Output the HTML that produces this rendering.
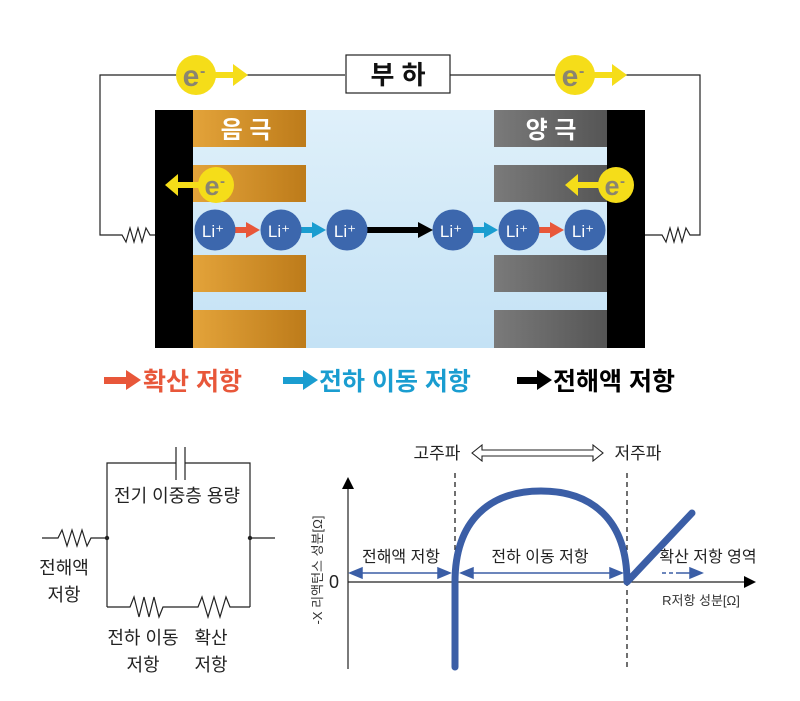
<!DOCTYPE html>
<html><head><meta charset="utf-8"><style>
html,body{margin:0;padding:0;background:#fff;}
svg{display:block;}
text{font-family:"Liberation Sans","Noto Sans CJK KR",sans-serif;}
</style></head><body>
<svg width="800" height="701" viewBox="0 0 800 701" xmlns="http://www.w3.org/2000/svg">
<defs>
<linearGradient id="an" x1="0" x2="1" y1="0" y2="0"><stop offset="0" stop-color="#e3a33a"/><stop offset="1" stop-color="#bd7b1a"/></linearGradient>
<linearGradient id="ca" x1="0" x2="1" y1="0" y2="0"><stop offset="0" stop-color="#7a7a7a"/><stop offset="1" stop-color="#555"/></linearGradient>
<linearGradient id="el" x1="0" x2="0" y1="0" y2="1"><stop offset="0" stop-color="#dff0fa"/><stop offset="1" stop-color="#c4e2f5"/></linearGradient>
</defs>
<polyline points="155,235 150,235 146,228 142,242 138,228 134,242 130,228 126,242 122,235 100,235 100,75 345,75" fill="none" stroke="#222" stroke-width="1.2"/>
<polyline points="450,75 700,75 700,235 690,235 686,228 682,242 678,228 674,242 670,228 666,242 662,235 645,235" fill="none" stroke="#222" stroke-width="1.2"/>
<rect x="346" y="55" width="104" height="38" fill="#fff" stroke="#222" stroke-width="1.2"/>
<text x="398" y="84" font-size="26" font-weight="bold" text-anchor="middle" fill="#111">부 하</text>
<g>
<rect x="210" y="72" width="25" height="6" fill="#f5dd19"/><polygon points="233,64 248,75 233,86" fill="#f5dd19"/>
<circle cx="196" cy="75" r="20" fill="#f5dd19"/><text x="191" y="86" font-size="30" font-weight="bold" fill="#8a8570" text-anchor="middle">e</text><text x="200" y="76" font-size="16" font-weight="bold" fill="#8a8570">-</text>
<rect x="589" y="72" width="25" height="6" fill="#f5dd19"/><polygon points="612,64 627,75 612,86" fill="#f5dd19"/>
<circle cx="575" cy="75" r="20" fill="#f5dd19"/><text x="570" y="86" font-size="30" font-weight="bold" fill="#8a8570" text-anchor="middle">e</text><text x="579" y="76" font-size="16" font-weight="bold" fill="#8a8570">-</text>
</g>
<rect x="193" y="110" width="414" height="238" fill="url(#el)"/>
<rect x="155" y="110" width="38" height="238" fill="#000"/>
<rect x="607" y="110" width="38" height="238" fill="#000"/>
<g fill="url(#an)"><rect x="193" y="110" width="113" height="37"/><rect x="193" y="165" width="113" height="37"/><rect x="193" y="255" width="113" height="37"/><rect x="193" y="310" width="113" height="38"/></g>
<g fill="url(#ca)"><rect x="494" y="110" width="113" height="37"/><rect x="494" y="165" width="113" height="37"/><rect x="494" y="255" width="113" height="37"/><rect x="494" y="310" width="113" height="38"/></g>
<text x="246" y="138" font-size="24" font-weight="bold" fill="#fff" text-anchor="middle">음 극</text>
<text x="551" y="138" font-size="24" font-weight="bold" fill="#fff" text-anchor="middle">양 극</text>
<rect x="176" y="182" width="30" height="6" fill="#f5dd19"/><polygon points="178,174 165,185 178,196" fill="#f5dd19"/>
<circle cx="216" cy="185" r="18" fill="#f5dd19"/><text x="212" y="195" font-size="27" font-weight="bold" fill="#8a8570" text-anchor="middle">e</text><text x="220" y="186" font-size="15" font-weight="bold" fill="#8a8570">-</text>
<rect x="576" y="182" width="30" height="6" fill="#f5dd19"/><polygon points="578,174 565,185 578,196" fill="#f5dd19"/>
<circle cx="616" cy="185" r="18" fill="#f5dd19"/><text x="612" y="195" font-size="27" font-weight="bold" fill="#8a8570" text-anchor="middle">e</text><text x="620" y="186" font-size="15" font-weight="bold" fill="#8a8570">-</text>
<rect x="234" y="227" width="14" height="6" fill="#e8573a"/><polygon points="246,222 260,230 246,238" fill="#e8573a"/>
<rect x="300" y="227" width="14" height="6" fill="#1a9dd0"/><polygon points="312,222 326,230 312,238" fill="#1a9dd0"/>
<rect x="366" y="227" width="54" height="6" fill="#000"/><polygon points="418,222 433,230 418,238" fill="#000"/>
<rect x="472" y="227" width="14" height="6" fill="#1a9dd0"/><polygon points="484,222 498,230 484,238" fill="#1a9dd0"/>
<rect x="538" y="227" width="14" height="6" fill="#e8573a"/><polygon points="550,222 564,230 550,238" fill="#e8573a"/>
<g fill="#3c67ad">
<circle cx="215" cy="230" r="20.5"/><circle cx="281" cy="230" r="20.5"/><circle cx="347" cy="230" r="20.5"/><circle cx="453" cy="230" r="20.5"/><circle cx="519" cy="230" r="20.5"/><circle cx="585" cy="230" r="20.5"/>
</g>
<g fill="#fff" font-size="17" text-anchor="middle">
<text x="213" y="237">Li⁺</text><text x="279" y="237">Li⁺</text><text x="345" y="237">Li⁺</text><text x="451" y="237">Li⁺</text><text x="517" y="237">Li⁺</text><text x="583" y="237">Li⁺</text>
</g>
<rect x="104" y="377" width="24" height="7" fill="#e8573a"/><polygon points="126,370 141,380 126,390" fill="#e8573a"/>
<text x="143" y="390" font-size="25" font-weight="bold" fill="#e8573a">확산 저항</text>
<rect x="283" y="377" width="22" height="7" fill="#1a9dd0"/><polygon points="303,370 318,380 303,390" fill="#1a9dd0"/>
<text x="319" y="390" font-size="25" font-weight="bold" fill="#1a9dd0">전하 이동 저항</text>
<rect x="517" y="377" width="22" height="7" fill="#000"/><polygon points="537,370 552,380 537,390" fill="#000"/>
<text x="553" y="390" font-size="25" font-weight="bold" fill="#000">전해액 저항</text>
<g fill="none" stroke="#222" stroke-width="1.2">
<polyline points="42,538 58,538 62,530 67,546 72,530 77,546 82,530 87,546 91,538 107,538"/>
<line x1="250" y1="538" x2="275" y2="538"/>
<polyline points="107,607 107,463 176,463"/><polyline points="185,463 250,463 250,607"/>
<line x1="176" y1="447" x2="176" y2="480"/><line x1="185" y1="447" x2="185" y2="480"/>
<polyline points="107,607 130,607 134,597 139,617 144,597 149,617 154,597 159,617 163,607 198,607 202,597 208,617 214,597 220,617 226,597 230,607 250,607"/>
</g>
<circle cx="107" cy="538" r="2.2" fill="#222"/><circle cx="250" cy="538" r="2.2" fill="#222"/>
<g font-size="18" fill="#222" text-anchor="middle">
<text x="177" y="502">전기 이중층 용량</text>
<text x="64" y="574">전해액</text><text x="64" y="601">저항</text>
<text x="143" y="644">전하 이동</text><text x="143" y="671">저항</text>
<text x="211" y="644">확산</text><text x="211" y="671">저항</text>
</g>
<line x1="348" y1="488" x2="348" y2="669" stroke="#222" stroke-width="1.2"/>
<polygon points="342,489 348,477 354,489" fill="#000"/>
<line x1="348" y1="582" x2="745" y2="582" stroke="#222" stroke-width="1.2"/>
<polygon points="744,576 756,582 744,588" fill="#000"/>
<line x1="455" y1="473" x2="455" y2="670" stroke="#222" stroke-width="1.3" stroke-dasharray="5,4"/>
<line x1="627" y1="473" x2="627" y2="670" stroke="#222" stroke-width="1.3" stroke-dasharray="5,4"/>
<text x="437" y="459" font-size="17" fill="#222" text-anchor="middle">고주파</text>
<text x="638" y="459" font-size="17" fill="#222" text-anchor="middle">저주파</text>
<polygon points="472,453 482,445 482,450 593,450 593,445 603,453 593,461 593,456 482,456 482,461" fill="#fff" stroke="#222" stroke-width="1.1"/>
<path d="M455,667 L455,582 C455,520 490,491 541,491 C592,491 627,520 627,582 L692,513" fill="none" stroke="#3b5ea6" stroke-width="7" stroke-linecap="round" stroke-linejoin="round"/>
<g stroke="#3b5ea6" stroke-width="1.5" fill="#3b5ea6">
<line x1="356" y1="573" x2="444" y2="573"/><polygon points="350,573 362,568 362,578"/><polygon points="450,573 438,568 438,578"/>
<line x1="467" y1="573" x2="616" y2="573"/><polygon points="461,573 473,568 473,578"/><polygon points="622,573 610,568 610,578"/>
<line x1="662" y1="573" x2="680" y2="573" stroke-dasharray="4,3"/><line x1="680" y1="573" x2="696" y2="573"/><polygon points="702,573 690,568 690,578"/>
</g>
<g font-size="16" fill="#222" text-anchor="middle">
<text x="401" y="562">전해액 저항</text>
<text x="540" y="562">전하 이동 저항</text>
<text x="708" y="562">확산 저항 영역</text>
</g>
<text x="334" y="588" font-size="18" fill="#222" text-anchor="middle">0</text>
<text x="701" y="605" font-size="13" fill="#333" text-anchor="middle">R저항 성분[Ω]</text>
<text transform="translate(322,570) rotate(-90)" font-size="13" fill="#333" text-anchor="middle">-X 리액턴스 성분[Ω]</text>
</svg>
</body></html>
